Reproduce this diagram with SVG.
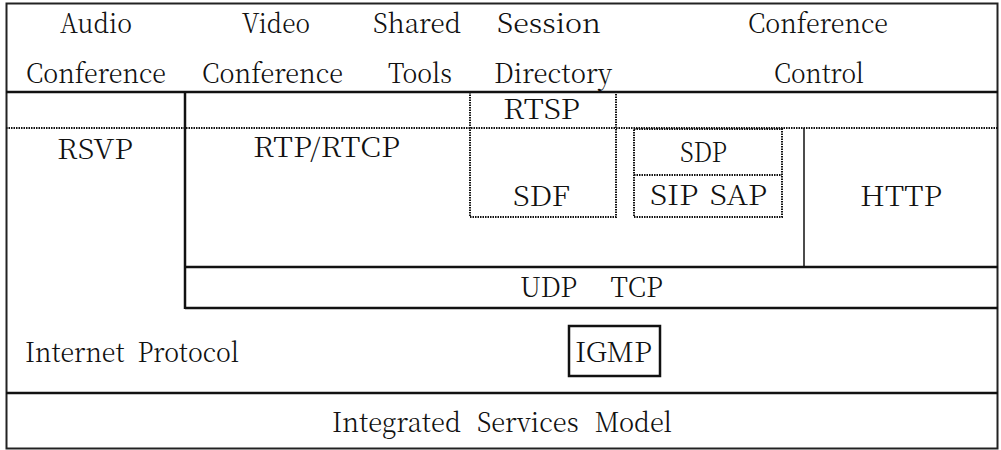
<svg xmlns="http://www.w3.org/2000/svg" width="1001" height="450" viewBox="0 0 1001 450">
  <style>
    .lbl { font-size: 27px; fill: #111; }
    .solid { stroke: #111; stroke-width: 2.5; fill: none; }
    .thin { stroke: #111; stroke-width: 1.5; fill: none; }
    .dot { stroke: #111; stroke-width: 2; stroke-dasharray: 1.5 1; fill: none; }
    .frame { stroke: #222; stroke-width: 2; fill: none; }
  </style>

  <rect width="1001" height="450" fill="#fff"/>

  <!-- layer boundaries -->
  <g id="rules">
    <rect class="frame" x="6.5" y="3.5" width="991" height="445"/>
    <line class="solid" x1="6" y1="92" x2="998" y2="92"/>
    <line class="dot" x1="6" y1="128" x2="998" y2="128"/>
    <line class="solid" x1="185" y1="92" x2="185" y2="309"/>
    <line class="solid" x1="185" y1="267" x2="998" y2="267"/>
    <line class="solid" x1="185" y1="308" x2="998" y2="308"/>
    <line class="solid" x1="6" y1="393" x2="998" y2="393"/>
    <line class="thin" x1="804" y1="128" x2="804" y2="267"/>
  </g>

  <g font-family="Noto Serif CJK KR, Liberation Serif, serif" font-weight="300">
  <!-- application row -->
  <g id="audio-conference">
    <text class="lbl" x="60" y="33" textLength="72" lengthAdjust="spacingAndGlyphs">Audio</text>
    <text class="lbl" x="26" y="83" textLength="140" lengthAdjust="spacingAndGlyphs">Conference</text>
  </g>
  <g id="video-conference">
    <text class="lbl" x="242" y="33" textLength="68" lengthAdjust="spacingAndGlyphs">Video</text>
    <text class="lbl" x="202" y="83" textLength="141" lengthAdjust="spacingAndGlyphs">Conference</text>
  </g>
  <g id="shared-tools">
    <text class="lbl" x="373" y="33" textLength="88" lengthAdjust="spacingAndGlyphs">Shared</text>
    <text class="lbl" x="388" y="83" textLength="64" lengthAdjust="spacingAndGlyphs">Tools</text>
  </g>
  <g id="session-directory">
    <text class="lbl" x="497" y="33" textLength="104" lengthAdjust="spacingAndGlyphs">Session</text>
    <text class="lbl" x="494" y="83" textLength="118" lengthAdjust="spacingAndGlyphs">Directory</text>
  </g>
  <g id="conference-control">
    <text class="lbl" x="748" y="33" textLength="140" lengthAdjust="spacingAndGlyphs">Conference</text>
    <text class="lbl" x="774" y="83" textLength="90" lengthAdjust="spacingAndGlyphs">Control</text>
  </g>

  <!-- protocol boxes -->
  <g id="rtsp-sdf">
    <polyline class="dot" points="470,92 470,217 616,217 616,92"/>
    <text class="lbl" x="503" y="119" textLength="77" lengthAdjust="spacingAndGlyphs">RTSP</text>
    <text class="lbl" x="513" y="206" textLength="57" lengthAdjust="spacingAndGlyphs">SDF</text>
  </g>
  <g id="rsvp">
    <text class="lbl" x="57" y="159" textLength="76" lengthAdjust="spacingAndGlyphs">RSVP</text>
  </g>
  <g id="rtp-rtcp">
    <text class="lbl" x="253" y="157" textLength="147" lengthAdjust="spacingAndGlyphs">RTP/RTCP</text>
  </g>
  <g id="sdp-sip-sap">
    <rect class="dot" x="634" y="129" width="148" height="88"/>
    <line class="dot" x1="634" y1="175" x2="782" y2="175"/>
    <text class="lbl" x="680" y="162" textLength="47" lengthAdjust="spacingAndGlyphs">SDP</text>
    <text class="lbl" x="650" y="205" textLength="117" lengthAdjust="spacingAndGlyphs" word-spacing="3">SIP SAP</text>
  </g>
  <g id="http">
    <text class="lbl" x="860" y="206" textLength="82" lengthAdjust="spacingAndGlyphs">HTTP</text>
  </g>
  <g id="udp-tcp">
    <text class="lbl" x="520" y="297" textLength="143" lengthAdjust="spacingAndGlyphs" word-spacing="27">UDP TCP</text>
  </g>
  <g id="internet-protocol">
    <text class="lbl" x="25" y="362" textLength="214" lengthAdjust="spacingAndGlyphs" word-spacing="7">Internet Protocol</text>
  </g>
  <g id="igmp">
    <rect class="solid" x="569" y="326" width="91" height="50" stroke-width="2"/>
    <text class="lbl" x="575" y="362" textLength="77" lengthAdjust="spacingAndGlyphs">IGMP</text>
  </g>
  <g id="integrated-services">
    <text class="lbl" x="332" y="432" textLength="340" lengthAdjust="spacingAndGlyphs" word-spacing="10">Integrated Services Model</text>
  </g>
  </g>
</svg>
